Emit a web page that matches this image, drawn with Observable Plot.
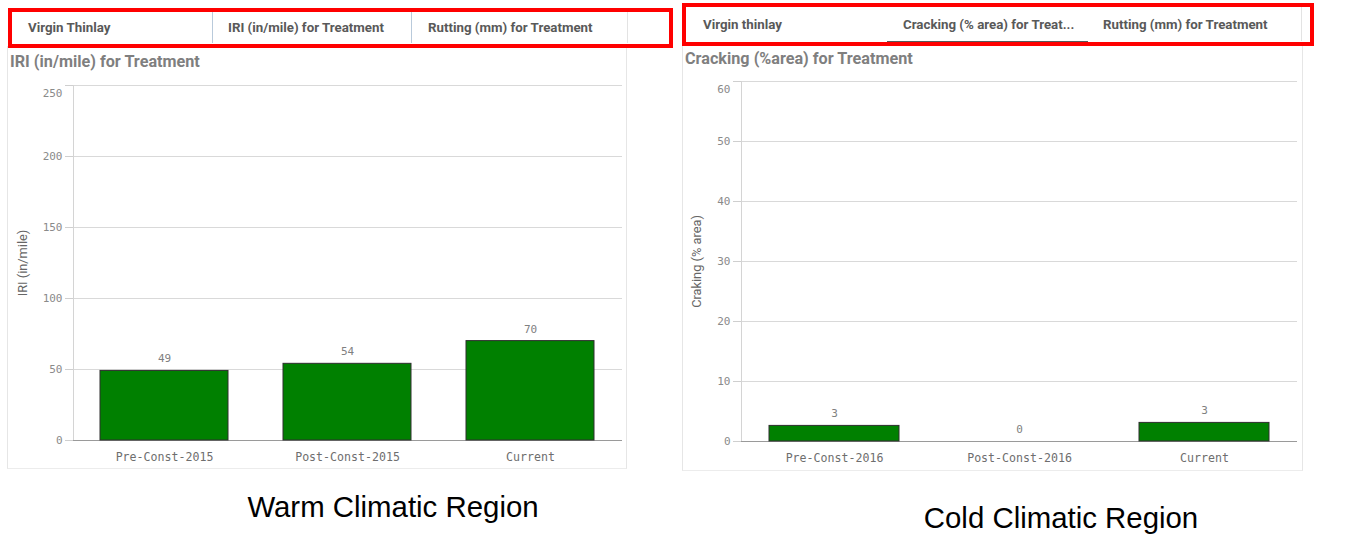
<!DOCTYPE html>
<html>
<head>
<meta charset="utf-8">
<script src="https://cdn.jsdelivr.net/npm/d3@7"></script>
<script src="https://cdn.jsdelivr.net/npm/@observablehq/plot@0.6"></script>
<style>
  html, body { margin: 0; padding: 0; background: #fff; }
  #page { position: relative; width: 1354px; height: 535px; overflow: hidden; font-family: Roboto, "Open Sans", sans-serif; }
  .abs { position: absolute; }
  .redbox { position: absolute; border: 4px solid #ff0000; box-sizing: border-box; }
  .tab { position: absolute; font-family: Roboto, sans-serif; font-weight: 700; font-size: 13.3px; color: #595959; line-height: 16px; white-space: nowrap; }
  .divider { position: absolute; width: 1px; }
  .title { position: absolute; font-family: Roboto, sans-serif; font-weight: 700; font-size: 16.2px; color: #7f7f7f; line-height: 18px; white-space: nowrap; }
  .caption { position: absolute; font-family: "Liberation Sans", Arial, sans-serif; font-size: 29.4px; color: #000; line-height: 32px; white-space: nowrap; transform: translateX(-50%); }
  .panel { position: absolute; box-sizing: border-box; border-left: 1px solid #e6e6e6; border-right: 1px solid #e6e6e6; border-bottom: 1px solid #ececec; }
  .chart svg [aria-label="y-axis label"] text { font-family: Roboto, sans-serif; font-size: 12.8px; fill: #666; }
</style>
</head>
<body>
<div id="page">
  <!-- left panel -->
  <div class="panel" style="left:7px; top:46px; width:620px; height:423px;"></div>
  <div class="divider" style="left:212px; top:12px; height:31px; background:#b9cadb;"></div>
  <div class="divider" style="left:411px; top:12px; height:31px; background:#b9cadb;"></div>
  <div class="divider" style="left:627px; top:12px; height:31px; background:#e3e3e3;"></div>
  <div class="tab" style="left:28px; top:20px;">Virgin Thinlay</div>
  <div class="tab" style="left:228px; top:20px;">IRI (in/mile) for Treatment</div>
  <div class="tab" style="left:428px; top:20px;">Rutting (mm) for Treatment</div>
  <div class="redbox" style="left:8px; top:8px; width:665px; height:40px;"></div>
  <div class="title" style="left:10px; top:53px;">IRI (in/mile) for Treatment</div>
  <div id="warm" class="chart abs" style="left:0px; top:70px;"></div>
  <div class="caption" style="left:393px; top:491px;">Warm Climatic Region</div>

  <!-- right panel -->
  <div class="panel" style="left:682px; top:44px; width:621px; height:427px;"></div>
  <div class="divider" style="left:1301px; top:7px; height:34px; background:#e3e3e3;"></div>
  <div class="abs" style="left:887px; top:41px; width:201px; height:2px; background:#595959;"></div>
  <div class="tab" style="left:703px; top:17px;">Virgin thinlay</div>
  <div class="tab" style="left:903px; top:17px;">Cracking (% area) for Treat...</div>
  <div class="tab" style="left:1103px; top:17px;">Rutting (mm) for Treatment</div>
  <div class="redbox" style="left:682px; top:3px; width:632px; height:43px;"></div>
  <div class="title" style="left:685px; top:50px;">Cracking (%area) for Treatment</div>
  <div id="cold" class="chart abs" style="left:680px; top:70px;"></div>
  <div class="caption" style="left:1061px; top:502px;">Cold Climatic Region</div>
</div>
<script>
// ---- data ----
const warmCategories = ["Pre-Const-2015", "Post-Const-2015", "Current"];
const warmIRI = [49, 54, 70];
const warmTicks = [0, 50, 100, 150, 200, 250];

const coldCategories = ["Pre-Const-2016", "Post-Const-2016", "Current"];
const coldCracking = [2.6, 0, 3.1];
const coldTicks = [0, 10, 20, 30, 40, 50, 60];

function barChart({categories, values, ticks, label, width, height, marginLeft, marginRight, marginTop, marginBottom, labelOffset}) {
  const data = categories.map((c, i) => ({cat: c, value: values[i]}));
  const top = ticks[ticks.length - 1];
  return Plot.plot({
    width, height, marginLeft, marginRight, marginTop, marginBottom,
    style: {fontFamily: "'DejaVu Sans Mono', monospace", fontSize: "11px", color: "#888", background: "transparent", overflow: "visible"},
    x: {domain: categories, paddingInner: 0.3, paddingOuter: 0.15},
    y: {domain: [0, top]},
    marks: [
      Plot.gridY(ticks, {stroke: "#d9d9d9", strokeOpacity: 1}),
      Plot.frame({anchor: "left", stroke: "#d4d4d4"}),
      Plot.axisY(ticks, {tickSize: 8, tickPadding: 3, stroke: "#cfcfcf", fill: "#8a8a8a", tickFormat: d => d === top ? "" : d, label, labelArrow: "none", labelAnchor: "center", labelOffset}),
      Plot.axisY([top], {tickSize: 0, tickPadding: 11, dy: 8, fill: "#8a8a8a", label: null}),
      Plot.ruleY([0], {stroke: "#9a9a9a", strokeWidth: 1.2}),
      Plot.barY(data, {x: "cat", y: "value", fill: "#008000", stroke: "#2e2e2e", strokeWidth: 1}),
      Plot.text(data, {x: "cat", y: "value", text: d => String(Math.round(d.value)), dy: -12, fill: "#808080", fontSize: 11}),
      Plot.axisX({tickSize: 0, tickPadding: 12, fill: "#6e6e6e", fontSize: 11.6, label: null})
    ]
  });
}

document.getElementById("warm").append(barChart({
  categories: warmCategories, values: warmIRI, ticks: warmTicks, label: "IRI (in/mile)",
  width: 630, height: 400, marginLeft: 73, marginRight: 8, marginTop: 15, marginBottom: 30, labelOffset: 56
}));

document.getElementById("cold").append(barChart({
  categories: coldCategories, values: coldCracking, ticks: coldTicks, label: "Craking (% area)",
  width: 622, height: 400, marginLeft: 61, marginRight: 5, marginTop: 11, marginBottom: 29, labelOffset: 50
}));
</script>
</body>
</html>
